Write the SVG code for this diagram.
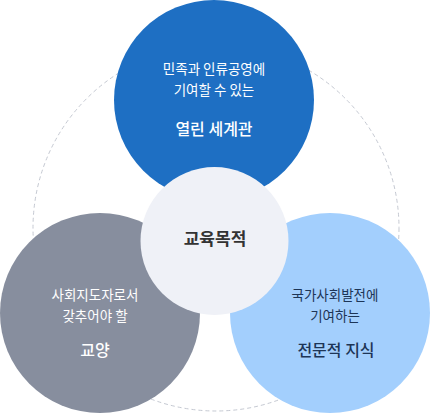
<svg xmlns="http://www.w3.org/2000/svg" width="430" height="414" viewBox="0 0 430 414">
<style>
text{font-family:"Noto Sans CJK KR","Noto Sans",sans-serif;text-anchor:middle}
.s{font-size:13.5px}
.b{font-size:16px;font-weight:500}
.w{fill:#ffffff}
.d{fill:#1d3556}
</style>
<g id="connectors">
<circle cx="216" cy="228" r="183" fill="none" stroke="#c5c9d2" stroke-width="1" stroke-dasharray="4 3"/>
</g>
<g id="node-top">
<circle cx="214" cy="100" r="100" fill="#1e6fc3"/>
<text class="s w" x="214" y="74">민족과 인류공영에</text>
<text class="s w" x="214" y="95">기여할 수 있는</text>
<text class="b w" x="214" y="135">열린 세계관</text>
</g>
<g id="node-left">
<circle cx="100" cy="313" r="100" fill="#878e9e"/>
<text class="s w" x="95" y="300">사회지도자로서</text>
<text class="s w" x="95" y="321">갖추어야 할</text>
<text class="b w" x="95" y="356">교양</text>
</g>
<g id="node-right">
<circle cx="330" cy="313" r="100" fill="#a3cffd"/>
<text class="s d" x="335" y="300">국가사회발전에</text>
<text class="s d" x="335" y="321">기여하는</text>
<text class="b d" x="336" y="356">전문적 지식</text>
</g>
<g id="node-center">
<circle cx="214.5" cy="241" r="74" fill="#eff1f7"/>
<text x="215" y="245" style="font-size:17px;font-weight:700;fill:#333333">교육목적</text>
</g>
</svg>
